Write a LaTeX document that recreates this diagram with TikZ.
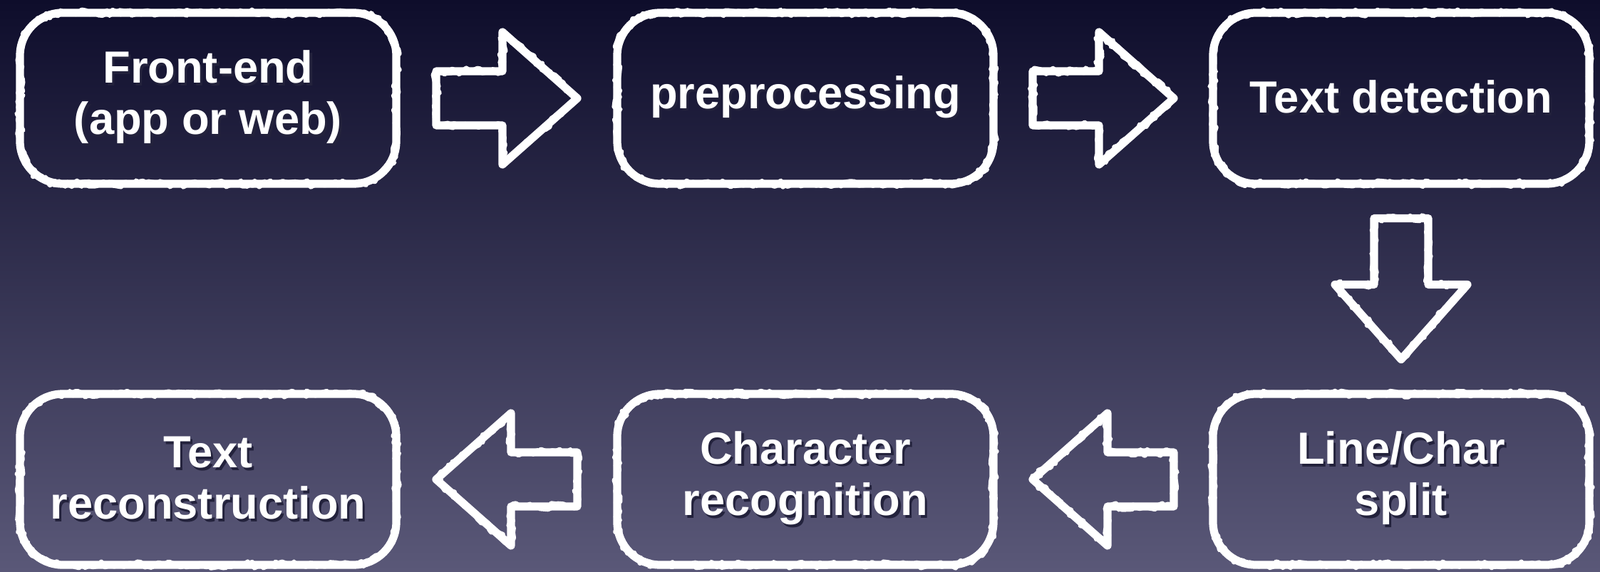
\documentclass[tikz,border=0pt]{standalone}
\usepackage{fontspec}
\setmainfont{Liberation Sans}
\usetikzlibrary{calc, decorations.pathmorphing}
\definecolor{bgtop}{HTML}{0E0D2B}
\definecolor{bgbot}{HTML}{5A5878}
\definecolor{shade}{HTML}{23223C}
\newcommand{\shadowtext}[1]{\rlap{\kern0.9pt\raisebox{-1pt}{\color{shade}#1}}#1}
\tikzset{
    rough/.style = {draw=white, line width=2pt, sharp corners,
        decorate, decoration={random steps, segment length=1.4pt, amplitude=1.2pt}},
    chalk/.style = {draw=white, line width=3.2pt, line join=round,
        postaction={rough}},
    stage/.style = {chalk, rounded corners=0.6cm, minimum width=5.28cm, minimum height=2.40cm,
        align=center, text=white, font=\fontsize{18}{20.5}\selectfont\bfseries},
    blockarrow/.pic = {
        \draw[chalk] (-0.99,0.38) -- (-0.06,0.38) -- (-0.06,0.93) -- (0.99,0)
            -- (-0.06,-0.93) -- (-0.06,-0.38) -- (-0.99,-0.38) -- cycle;
    },
}

\begin{document}
\begin{tikzpicture}
    \fill[top color=bgtop, bottom color=bgbot] (0,0) rectangle (22.45,8.02);
    \useasboundingbox (0,0) rectangle (22.45,8.02);

    \node[stage] (front) at (2.92, 6.64) {\shadowtext{Front-end}\\\shadowtext{(app or web)}};
    \node[stage] (prep) at (11.30, 6.64) {\shadowtext{preprocessing}};
    \node[stage] (detect) at (19.66, 6.64) {\shadowtext{Text detection}};

    \node[stage] (split) at (19.66, 1.29) {\shadowtext{Line/Char}\\\shadowtext{split}};
    \node[stage] (recog) at (11.30, 1.29) {\shadowtext{Character}\\\shadowtext{recognition}};
    \node[stage] (recon) at (2.92, 1.29) {\shadowtext{Text}\\\shadowtext{reconstruction}};

    \pic at ($(front)!0.5!(prep)$) {blockarrow};
    \pic at ($(prep)!0.5!(detect)$) {blockarrow};
    \pic[rotate=-90] at ($(detect)!0.5!(split)$) {blockarrow};
    \pic[rotate=180] at ($(split)!0.5!(recog)$) {blockarrow};
    \pic[rotate=180] at ($(recog)!0.5!(recon)$) {blockarrow};
\end{tikzpicture}
\end{document}
